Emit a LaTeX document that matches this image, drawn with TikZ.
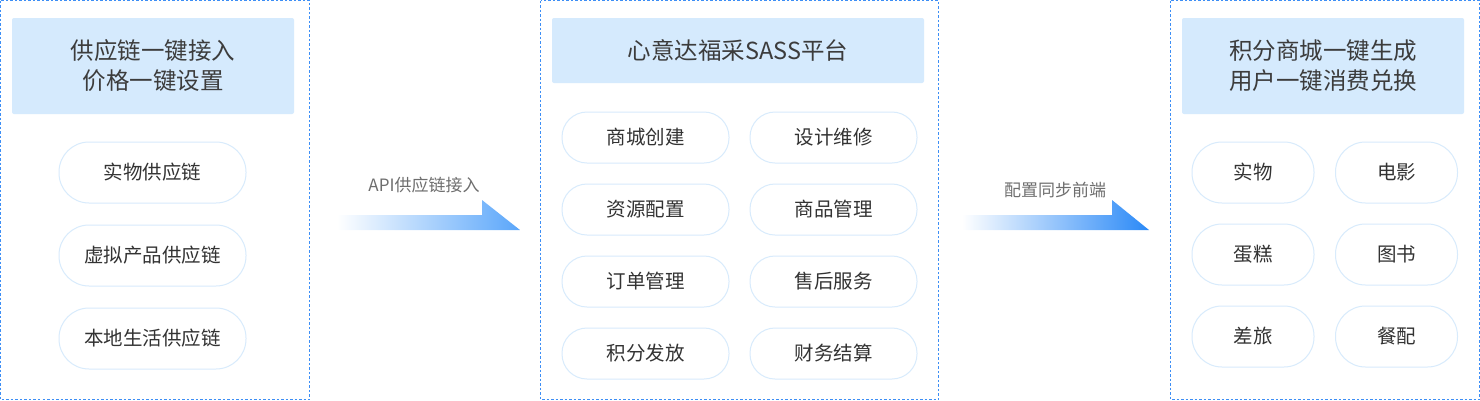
\documentclass[tikz,border=0pt]{standalone}
\usepackage{fontspec}
\setmainfont{Noto Sans CJK SC}
\definecolor{dashblue}{HTML}{3D8EF5}
\definecolor{headfill}{HTML}{D5EAFD}
\definecolor{pillline}{HTML}{D8EBFC}
\definecolor{txt}{HTML}{333333}
\definecolor{headtxt}{HTML}{3C3C3C}
\definecolor{lbl}{HTML}{6E6E6E}
\definecolor{arrA}{HTML}{5AA6FA}
\definecolor{arrB}{HTML}{2A89F7}
\tikzset{
  panel/.style={draw=dashblue, line width=1pt, dash pattern=on 2.5pt off 2pt, fill=white},
  header/.style={fill=headfill, rounded corners=2pt, inner sep=0pt, text=headtxt, align=center, font=\fontsize{23.5}{30}\selectfont},
  pillbig/.style={draw=pillline, line width=1pt, fill=white, rounded corners=30pt, minimum height=61pt, inner sep=0pt, text=txt, font=\fontsize{19.5}{22}\selectfont},
  pillsmall/.style={draw=pillline, line width=1pt, fill=white, rounded corners=25pt, minimum height=51pt, inner sep=0pt, text=txt, font=\fontsize{19.5}{22}\selectfont},
  arrlabel/.style={text=lbl, inner sep=0pt, font=\fontsize{17}{20}\selectfont}
}
\begin{document}
\begin{tikzpicture}[x=1pt,y=-1pt]
\useasboundingbox (0,0) rectangle (1480,400);
% panels
\draw[panel] (0.5,0.5) rectangle (309.5,399.5);
\draw[panel] (540.5,0.5) rectangle (938.5,399.5);
\draw[panel] (1170.5,0.5) rectangle (1479.5,399.5);
% left
\node[header, minimum width=282pt, minimum height=96pt] (hl) at (153,66) {供应链一键接入\\价格一键设置};
\node[pillbig, minimum width=187pt] (l1) at (152.5,172.5) {实物供应链};
\node[pillbig, minimum width=187pt] (l2) at (152.5,255.5) {虚拟产品供应链};
\node[pillbig, minimum width=187pt] (l3) at (152.5,338.5) {本地生活供应链};
% middle
\node[header, minimum width=372pt, minimum height=65pt] (hm) at (738,50.5) {心意达福采SASS平台};
\node[pillsmall, minimum width=167pt] (m1) at (645.5,137.5) {商城创建};
\node[pillsmall, minimum width=167pt] (m2) at (833.5,137.5) {设计维修};
\node[pillsmall, minimum width=167pt] (m3) at (645.5,209.5) {资源配置};
\node[pillsmall, minimum width=167pt] (m4) at (833.5,209.5) {商品管理};
\node[pillsmall, minimum width=167pt] (m5) at (645.5,281.5) {订单管理};
\node[pillsmall, minimum width=167pt] (m6) at (833.5,281.5) {售后服务};
\node[pillsmall, minimum width=167pt] (m7) at (645.5,353.5) {积分发放};
\node[pillsmall, minimum width=167pt] (m8) at (833.5,353.5) {财务结算};
% right
\node[header, minimum width=282pt, minimum height=96pt] (hr) at (1323,66) {积分商城一键生成\\用户一键消费兑换};
\node[pillbig, minimum width=122pt] (r1) at (1253,172.5) {实物};
\node[pillbig, minimum width=122pt] (r2) at (1396.5,172.5) {电影};
\node[pillbig, minimum width=122pt] (r3) at (1253,254.5) {蛋糕};
\node[pillbig, minimum width=122pt] (r4) at (1396.5,254.5) {图书};
\node[pillbig, minimum width=122pt] (r5) at (1253,336.5) {差旅};
\node[pillbig, minimum width=122pt] (r6) at (1396.5,336.5) {餐配};
% arrow 1
\coordinate (a1s) at (337,222.5);
\coordinate (a1t) at (520,230);
\shade[left color=white, right color=arrA, shading angle=90]
  (337,215) -- (482,215) -- (482,200) -- (520,230) -- (337,230) -- cycle;
\node[arrlabel] (t1) at (424,185) {API供应链接入};
% arrow 2
\coordinate (a2s) at (962,222.5);
\coordinate (a2t) at (1149,230);
\shade[left color=white, right color=arrB, shading angle=90]
  (962,215) -- (1112,215) -- (1112,200) -- (1149,230) -- (962,230) -- cycle;
\node[arrlabel] (t2) at (1055,190) {配置同步前端};
\end{tikzpicture}
\end{document}
